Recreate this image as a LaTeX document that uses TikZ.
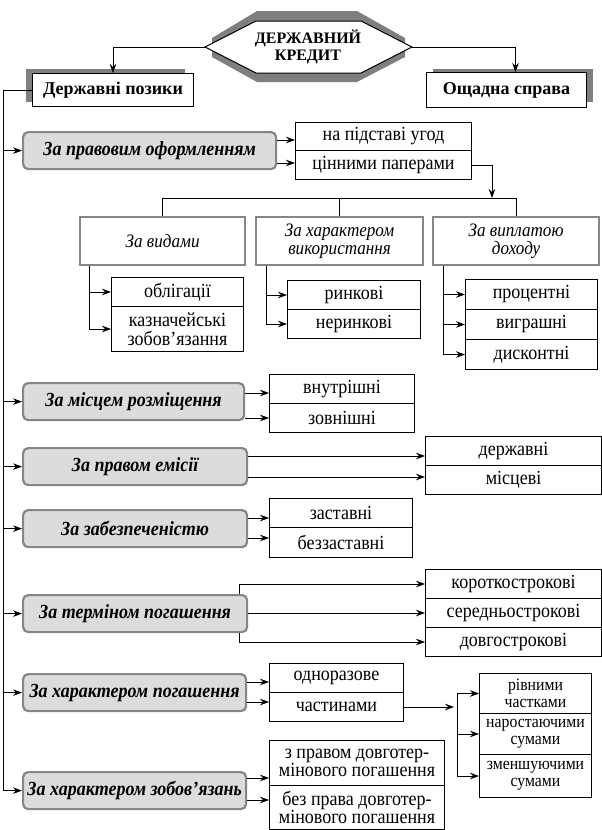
\documentclass[tikz,border=0pt]{standalone}
\usepackage{fontspec}
\setmainfont{Liberation Serif}
\newfontfamily\narrowserif{Liberation Serif}[FakeStretch=0.9]
\usetikzlibrary{arrows.meta,calc}
\definecolor{catgray}{HTML}{DCDCDC}
\definecolor{rimgray}{HTML}{868686}
\definecolor{shadowgray}{HTML}{7F7F7F}
\tikzset{
  conn/.style={line width=0.8pt},
  arr/.style={conn,-{Stealth[length=9pt,width=6.5pt,inset=3pt]}},
  headbox/.style={draw,line width=1pt,fill=white,anchor=north west,inner sep=0pt,font=\fontsize{18}{20}\selectfont\bfseries},
  catbox/.style={draw=rimgray,line width=2.2pt,fill=catgray,rounded corners=5pt,anchor=north west,inner sep=0pt,minimum height=37,font=\narrowserif\fontsize{20}{21}\selectfont\bfseries\itshape},
  subbox/.style={draw=rimgray,line width=2.2pt,fill=white,anchor=north west,inner sep=0pt,align=center,minimum height=48,font=\narrowserif\fontsize{19}{17.5}\selectfont\itshape},
  leaf/.style={draw,line width=1pt,fill=white,anchor=north west,inner sep=0pt,align=center,font=\narrowserif\fontsize{20}{18.5}\selectfont},
  smallleaf/.style={leaf,font=\narrowserif\fontsize{17.5}{17}\selectfont},
}
\begin{document}
\begin{tikzpicture}[x=1pt,y=-1pt]
\useasboundingbox (0,0) rectangle (602,830);
% head
\fill[shadowgray] (212,38) -- (257,11) -- (357,11) -- (405,38) -- (405,57) -- (357,82) -- (257,82) -- (212,57) -- cycle;
\coordinate (hexL) at (205,47);
\coordinate (hexR) at (412,47);
\filldraw[fill=white,line width=1pt] (hexL) -- (256,21) -- (361,21) -- (hexR) -- (361,73) -- (256,73) -- cycle;
\node[align=center,font=\fontsize{16}{17}\selectfont\bfseries] (credit) at (308,47) {ДЕРЖАВНИЙ\\КРЕДИТ};
\fill[shadowgray] (26,69) rectangle (185,102);
\node[headbox,minimum width=161,minimum height=33] (pozyky) at (32,73) {Державні позики};
\fill[shadowgray] (433,69) rectangle (593,102);
\node[headbox,minimum width=160,minimum height=35] (oshchad) at (426,72) {Ощадна справа};
\draw[arr] (hexL) -| (pozyky.north);
\draw[arr] (hexR) -| ([xshift=9]oshchad.north);

% categories
\node[catbox,minimum width=253] (c1) at (22,131) {За правовим оформленням};
\node[catbox,minimum width=221] (c2) at (22,382) {За місцем розміщення};
\node[catbox,minimum width=224] (c3) at (22,447) {За правом емісії};
\node[catbox,minimum width=224] (c4) at (22,509) {За забезпеченістю};
\node[catbox,minimum width=224] (c5) at (22,594) {За терміном погашення};
\node[catbox,minimum width=223] (c6) at (22,673) {За характером погашення};
\node[catbox,minimum width=223] (c7) at (22,771) {За характером зобов’язань};
\coordinate (spine) at (3,0);
\draw[conn] (pozyky.west) -- (spine |- pozyky.west) -- (spine |- c7.west);
\foreach \nm in {c1,c2,c3,c4,c5,c6,c7}
  \draw[arr] (spine |- \nm.west) -- (\nm.west);

% legal form
\node[leaf,minimum width=176,minimum height=28] (ugod) at (295,122) {на підставі угод};
\node[leaf,minimum width=176,minimum height=29] (papery) at (295,150) {цінними паперами};
\draw[arr] (c1.east |- 0,140) -- (ugod.west |- 0,140);
\draw[arr] (c1.east |- 0,163) -- (papery.west |- 0,163);
\node[subbox,minimum width=165] (vydamy) at (79,216) {За видами};
\node[subbox,minimum width=167] (vykor) at (255,216) {За характером\\використання};
\node[subbox,minimum width=166] (vyplata) at (432,216) {За виплатою\\доходу};
\coordinate (bus) at (492,198);
\draw[arr] (papery.east) -| (bus);
\draw[conn] (vydamy.north) |- (vyplata.north |- bus) -- (vyplata.north);
\draw[conn] (vykor.north) -- (vykor.north |- bus);
\node[leaf,minimum width=132,minimum height=29] (oblig) at (111,277) {облігації};
\node[leaf,minimum width=132,minimum height=45] (kazn) at (111,306) {казначейські\\зобов’язання};
\node[leaf,minimum width=133,minimum height=29] (rynk) at (287,280) {ринкові};
\node[leaf,minimum width=133,minimum height=29] (nerynk) at (287,309) {неринкові};
\node[leaf,minimum width=132,minimum height=30] (protsent) at (465,279) {процентні};
\node[leaf,minimum width=132,minimum height=30] (vygrash) at (465,309) {виграшні};
\node[leaf,minimum width=132,minimum height=30] (dyskont) at (465,339) {дисконтні};
\foreach \nm in {oblig,kazn}
  \draw[arr] ([xshift=10]vydamy.south west) |- (\nm);
\foreach \nm in {rynk,nerynk}
  \draw[arr] ([xshift=11]vykor.south west) |- (\nm);
\foreach \nm in {protsent,vygrash,dyskont}
  \draw[arr] ([xshift=11]vyplata.south west) |- (\nm);

% placement, emission, security
\node[leaf,minimum width=145,minimum height=29] (vnutr) at (269,374) {внутрішні};
\node[leaf,minimum width=145,minimum height=29] (zovn) at (269,403) {зовнішні};
\draw[arr] (c2.east |- 0,393) -- (vnutr.west |- 0,393);
\draw[arr] (c2.east |- 0,418) -- (zovn.west |- 0,418);
\node[leaf,minimum width=176,minimum height=29] (derzh) at (425,436) {державні};
\node[leaf,minimum width=176,minimum height=29] (mists) at (425,465) {місцеві};
\draw[arr] (c3.east |- 0,456) -- (derzh.west |- 0,456);
\draw[arr] (c3.east |- 0,477) -- (mists.west |- 0,477);
\node[leaf,minimum width=143,minimum height=29] (zastav) at (269,498) {заставні};
\node[leaf,minimum width=143,minimum height=30] (bezzast) at (269,527) {беззаставні};
\draw[arr] (c4.east |- 0,518) -- (zastav.west |- 0,518);
\draw[arr] (c4.east |- 0,538) -- (bezzast.west |- 0,538);

% term
\node[leaf,minimum width=176,minimum height=29] (korotko) at (425,569) {короткострокові};
\node[leaf,minimum width=176,minimum height=29] (seredno) at (425,598) {середньострокові};
\node[leaf,minimum width=176,minimum height=29] (dovgo) at (425,627) {довгострокові};
\draw[arr] ([xshift=-9]c5.north east) |- (korotko);
\draw[arr] (c5.east |- seredno) -- (seredno);
\draw[arr] ([xshift=-9]c5.south east) |- (dovgo);

% repayment
\node[leaf,minimum width=134,minimum height=29] (odnoraz) at (269,663) {одноразове};
\node[leaf,minimum width=134,minimum height=29] (chastyn) at (269,692) {частинами};
\draw[arr] (c6.east |- 0,682) -- (odnoraz.west |- 0,682);
\draw[arr] (c6.east |- 0,702) -- (chastyn.west |- 0,702);
\node[smallleaf,minimum width=112,minimum height=40] (rivni) at (479,673) {рівними\\частками};
\node[smallleaf,minimum width=112,minimum height=41] (narost) at (479,713) {наростаючими\\сумами};
\node[smallleaf,minimum width=112,minimum height=43] (zmensh) at (479,754) {зменшуючими\\сумами};
\coordinate (fork) at (457,707);
\draw[arr] (chastyn.east |- fork) -- ([xshift=-3]fork);
\foreach \nm in {rivni,narost,zmensh}
  \draw[arr] (fork) |- (\nm);

% obligations
\node[leaf,minimum width=175,minimum height=45] (zpravom) at (269,740) {з правом довготер-\\мінового погашення};
\node[leaf,minimum width=175,minimum height=44] (bezprava) at (269,785) {без права довготер-\\мінового погашення};
\draw[arr] (c7.east |- 0,778) -- (zpravom.west |- 0,778);
\draw[arr] (c7.east |- 0,800) -- (bezprava.west |- 0,800);
\end{tikzpicture}
\end{document}
